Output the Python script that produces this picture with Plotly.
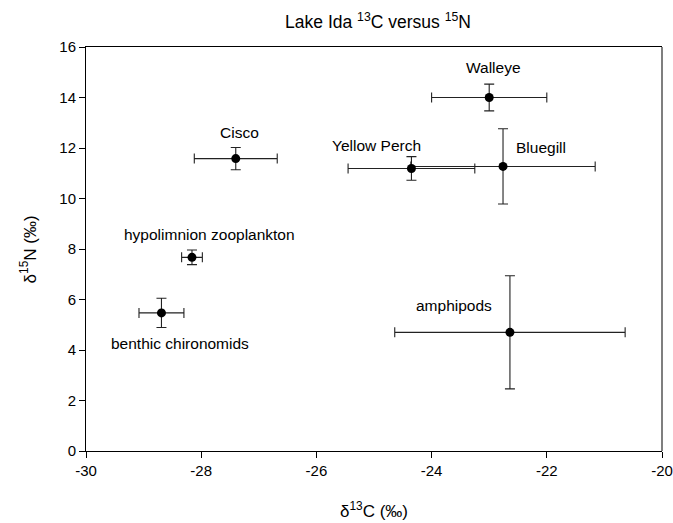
import plotly.graph_objects as go

# Stable isotope means and spreads for each group
groups = ["Walleye", "Yellow Perch", "Bluegill", "Cisco",
          "hypolimnion zooplankton", "benthic chironomids", "amphipods"]
d13c = [-23.0, -24.35, -22.76, -27.40, -28.16, -28.69, -22.64]
d15n = [14.0, 11.19, 11.27, 11.58, 7.67, 5.47, 4.70]
d13c_err = [1.0, 1.1, 1.6, 0.72, 0.18, 0.39, 2.0]
d15n_err = [0.53, 0.47, 1.49, 0.44, 0.29, 0.58, 2.24]

# Where each group name sits (data coordinates)
label_x = [-22.93, -24.95, -22.10, -27.33, -27.86, -28.36, -23.61]
label_y = [15.19, 12.11, 12.02, 12.61, 8.57, 4.26, 5.76]

x_ticks = [-30, -28, -26, -24, -22, -20]
x_tick_text = ["-30", "-28", "-26", "-24", "-22", "-20"]
y_ticks = [0, 2, 4, 6, 8, 10, 12, 14, 16]

FONT = "Liberation Sans, Arial, sans-serif"

fig = go.Figure()
fig.add_trace(go.Scatter(
    x=d13c, y=d15n, mode="markers",
    marker=dict(color="black", size=9),
    error_x=dict(type="data", array=d13c_err, color="#222222", thickness=1.1, width=5),
    error_y=dict(type="data", array=d15n_err, color="#222222", thickness=1.1, width=5),
    showlegend=False, hoverinfo="skip",
))

for name, lx, ly in zip(groups, label_x, label_y):
    fig.add_annotation(x=lx, y=ly, text=name, showarrow=False,
                       font=dict(family=FONT, size=15.5, color="black"),
                       xanchor="center", yanchor="middle")

# Axis titles
fig.add_annotation(x=0.5, y=-0.145, xref="paper", yref="paper",
                   text="δ<sup>13</sup>C (‰)", showarrow=False,
                   font=dict(family=FONT, size=17, color="black"),
                   xanchor="center", yanchor="middle")
fig.add_annotation(x=-0.1, y=0.5, xref="paper", yref="paper",
                   text="δ<sup>15</sup>N (‰)", showarrow=False, textangle=-90,
                   font=dict(family=FONT, size=17, color="black"),
                   xanchor="center", yanchor="middle")

# Right frame edge, drawn in grey
fig.add_shape(type="line", xref="paper", yref="paper", x0=1, x1=1, y0=0, y1=1,
              line=dict(color="#7f7f7f", width=2))

fig.update_layout(
    width=673, height=523,
    margin=dict(l=86, r=11, t=47, b=72, autoexpand=False),
    paper_bgcolor="white", plot_bgcolor="white",
    font=dict(family=FONT, size=15, color="black"),
    title=dict(text="Lake Ida <sup>13</sup>C versus <sup>15</sup>N",
               x=378 / 673, xanchor="center", xref="container",
               y=1 - 22 / 523, yref="container", yanchor="middle",
               font=dict(family=FONT, size=17.5, color="black")),
    xaxis=dict(range=[-30, -20], tickvals=x_ticks, ticktext=x_tick_text,
               ticks="outside", ticklen=6, ticklabeloverflow="allow",
               automargin=False,
               tickcolor="black", showline=True, linecolor="black", linewidth=1,
               mirror=True, showgrid=False, zeroline=False,
               tickfont=dict(family=FONT, size=15)),
    yaxis=dict(range=[0, 16], tickvals=y_ticks, ticks="outside", ticklen=6,
               automargin=False,
               tickcolor="black", showline=True, linecolor="black", linewidth=1,
               showgrid=False, zeroline=False,
               tickfont=dict(family=FONT, size=15)),
)

fig.write_html("out.html")
